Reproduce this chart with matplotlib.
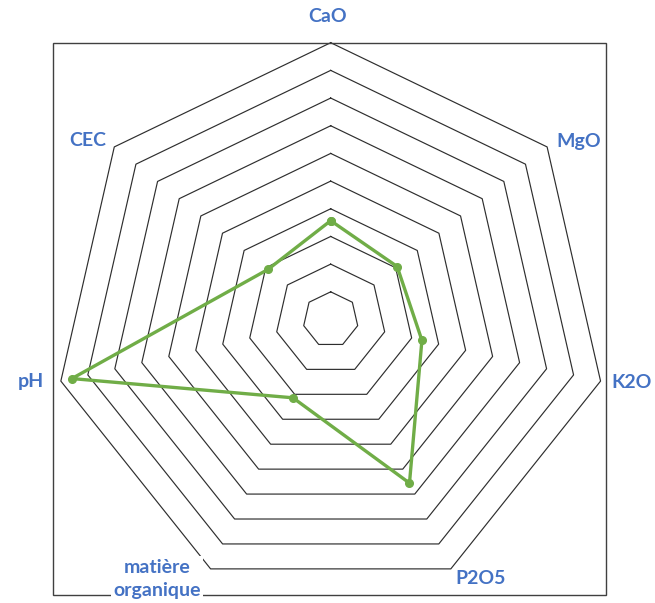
import numpy as np
import matplotlib
matplotlib.use("Agg")
import matplotlib.pyplot as plt
from matplotlib.patches import Rectangle

# Soil analysis profile (relative scale 0-10)
categories = ["CaO", "MgO", "K2O", "P2O5", "matière\norganique", "pH", "CEC"]
values = [3.57, 3.07, 3.38, 6.56, 3.14, 9.59, 2.90]
ring_levels = [1, 2, 3, 4, 5, 6, 7, 8, 9, 10]

W, H = 655, 603
fig = plt.figure(figsize=(W / 100, H / 100), dpi=100)
fig.patch.set_facecolor("white")

# Chart-area border
fig.patches.append(Rectangle((53.3 / W, (H - 595) / H), (605.7 - 53.3) / W,
                             (595 - 42.7) / H, transform=fig.transFigure,
                             fill=False, edgecolor="#404040", linewidth=1.0,
                             zorder=1))

cx, cy, R = 330.7, 319.5, 276.8
ax = fig.add_axes([(cx - R) / W, (H - cy - R) / H, 2 * R / W, 2 * R / H],
                  projection="polar")
ax.set_theta_offset(np.pi / 2)
ax.set_theta_direction(-1)
ax.set_ylim(0, 10)
ax.set_axis_off()

n = len(categories)
theta = np.linspace(0, 2 * np.pi, n, endpoint=False)
theta_c = np.append(theta, theta[0])

# Heptagonal gridlines
for lvl in ring_levels:
    ax.plot(theta_c, [lvl] * (n + 1), color="#2e2e2e", linewidth=0.85,
            clip_on=False, zorder=2)

# Data series
vals_c = values + values[:1]
ax.plot(theta_c, vals_c, color="#70AD47", linewidth=2.4, marker="o",
        markersize=5.5, clip_on=False, zorder=3)

# Category labels
label_pos = [(327.5, 17), (579, 141), (632, 382), (481, 578),
             (157, 579), (31, 382), (88, 141)]
for name, (px, py) in zip(categories, label_pos):
    kw = {}
    if "\n" in name:
        kw["bbox"] = dict(facecolor="white", edgecolor="none", pad=2.0)
        kw["linespacing"] = 1.45
    fig.text(px / W, (H - py) / H, name, ha="center", va="center",
             family="Lato", fontweight="bold", fontsize=14,
             color="#4472C4", zorder=4, **kw)

fig.savefig("out.png", dpi=100)
